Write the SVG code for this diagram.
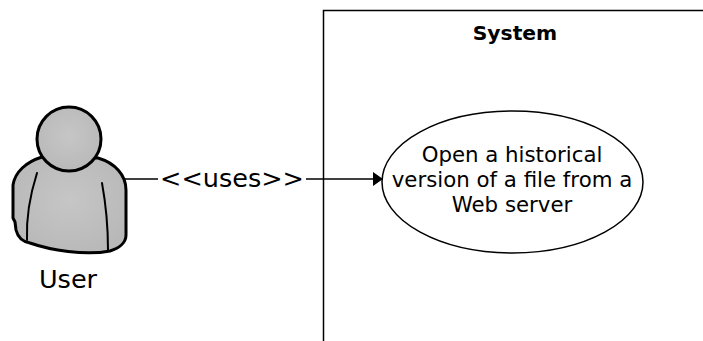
<svg xmlns="http://www.w3.org/2000/svg" width="703" height="341" viewBox="0 0 703 341">
<defs>
<radialGradient id="gray" cx="0.5" cy="0.45" r="0.6">
<stop offset="0" stop-color="#c6c6c6"/>
<stop offset="1" stop-color="#b8b8b8"/>
</radialGradient>
<marker id="arrow" markerWidth="11" markerHeight="16" refX="10" refY="8" orient="auto" markerUnits="userSpaceOnUse">
<path d="M0,1 L10,8 L0,15 Z" fill="#000"/>
</marker>
</defs>
<style>
text{font-family:"DejaVu Sans","Liberation Sans",sans-serif;fill:#000}
.lbl{font-size:25.5px}
.uc{font-size:21.3px}
.title{font-size:20.3px;font-weight:bold}
.outline{fill:url(#gray);stroke:#000;stroke-width:3;stroke-linejoin:round}
.inner{fill:none;stroke:#000;stroke-width:2;stroke-linecap:round}
</style>
<rect width="703" height="341" fill="#fff"/>
<g id="system">
<rect x="323.5" y="10.5" width="420" height="400" fill="none" stroke="#000" stroke-width="1.5"/>
<text class="title" x="515" y="40" text-anchor="middle">System</text>
</g>
<g id="connectors">
<line x1="122" y1="179" x2="383" y2="179" stroke="#000" stroke-width="1.5" marker-end="url(#arrow)"/>
<rect x="158" y="164" width="148" height="30" fill="#fff"/>
<text class="lbl" x="232" y="187" text-anchor="middle">&lt;&lt;uses&gt;&gt;</text>
</g>
<g id="usecase">
<ellipse cx="512.5" cy="182" rx="130.5" ry="71" fill="#fff" stroke="#000" stroke-width="1.5"/>
<text class="uc" x="512" y="162" text-anchor="middle">Open a historical</text>
<text class="uc" x="512" y="187" text-anchor="middle">version of a file from a</text>
<text class="uc" x="512" y="212" text-anchor="middle">Web server</text>
</g>
<g id="user">
<path class="outline" d="M42 157 C26 162 15 172 13 185 L13 218 L15 222 L16 230 C18 238 24 242 30 243 C50 250 85 256 110 251 C120 248 126 242 126 235 L126 190 C126 175 115 163 98 158 Z"/>
<path class="inner" d="M37 173 C30 195 26 215 27 240"/>
<path class="inner" d="M102 183 C106 205 108 230 108 250"/>
<circle class="outline" cx="69" cy="139" r="32"/>
<text class="lbl" x="68" y="288" text-anchor="middle">User</text>
</g>
</svg>
